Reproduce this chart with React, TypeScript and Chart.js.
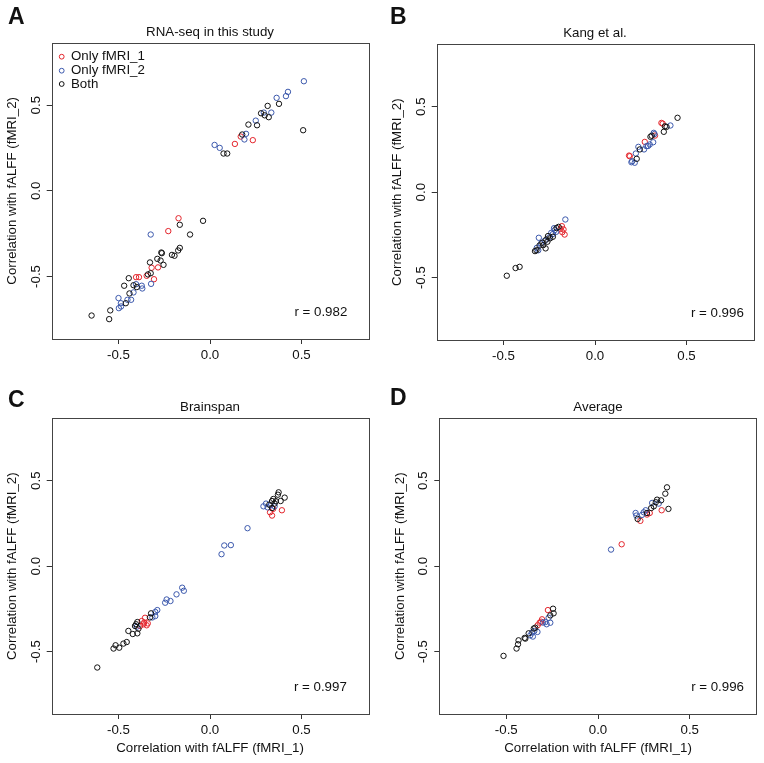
import React, { useEffect, useRef } from "react";
import { Chart, registerables } from "chart.js";
Chart.register(...registerables);

const FONT = "'Liberation Sans', Arial, Helvetica, sans-serif";
const RED = "#e3242b";
const BLUE = "#3b58ac";
const BLACK = "#111111";

const TICKS = [-0.5, 0, 0.5];
const AXIS_MIN = -0.865;
const AXIS_MAX = 0.865;
const LEGEND_LABELS = ["Only fMRI_1", "Only fMRI_2", "Both"];
const X_TITLE = "Correlation with fALFF (fMRI_1)";
const Y_TITLE = "Correlation with fALFF (fMRI_2)";

// Panel A: RNA-seq in this study
const aOnly1X = [0.168, 0.234, 0.136, -0.172, -0.228, -0.284, -0.319, -0.346, -0.404, -0.388, -0.306];
const aOnly1Y = [0.317, 0.296, 0.274, -0.16, -0.235, -0.447, -0.449, -0.496, -0.504, -0.504, -0.516];
const aOnly2X = [0.513, 0.426, 0.415, 0.364, 0.335, 0.294, 0.25, 0.197, 0.188, 0.025, 0.053, -0.324, -0.322, -0.404, -0.373, -0.37, -0.418, -0.5, -0.451, -0.431, -0.487, -0.498, -0.486];
const aOnly2Y = [0.64, 0.578, 0.553, 0.543, 0.457, 0.457, 0.41, 0.333, 0.3, 0.268, 0.251, -0.255, -0.543, -0.545, -0.554, -0.57, -0.593, -0.626, -0.636, -0.636, -0.656, -0.685, -0.675];
const aBothX = [0.377, 0.315, 0.321, 0.279, 0.299, 0.21, 0.257, 0.509, 0.176, 0.074, 0.094, -0.038, -0.165, -0.109, -0.165, -0.174, -0.263, -0.208, -0.194, -0.288, -0.27, -0.328, -0.254, -0.324, -0.339, -0.444, -0.469, -0.418, -0.4, -0.44, -0.46, -0.545, -0.647, -0.551, -0.266];
const aBothY = [0.508, 0.496, 0.43, 0.453, 0.441, 0.387, 0.383, 0.354, 0.329, 0.218, 0.218, -0.175, -0.198, -0.255, -0.333, -0.348, -0.364, -0.374, -0.379, -0.397, -0.407, -0.418, -0.432, -0.481, -0.488, -0.51, -0.554, -0.551, -0.562, -0.599, -0.656, -0.698, -0.728, -0.749, -0.36];

// Panel B: Kang et al.
const bOnly1X = [0.363, 0.37, 0.328, 0.272, 0.186, 0.19, -0.181, -0.172, -0.166, -0.179, -0.188];
const bOnly1Y = [0.405, 0.401, 0.331, 0.294, 0.214, 0.21, -0.199, -0.218, -0.248, -0.234, -0.215];
const bOnly2X = [0.412, 0.321, 0.318, 0.299, 0.281, 0.237, 0.268, 0.223, 0.203, 0.217, 0.199, 0.325, 0.29, -0.162, -0.224, -0.212, -0.239, -0.307, -0.318, -0.25, -0.275, -0.23, -0.31, -0.295, -0.22];
const bOnly2Y = [0.39, 0.347, 0.292, 0.279, 0.269, 0.265, 0.25, 0.226, 0.181, 0.172, 0.175, 0.34, 0.27, -0.16, -0.211, -0.232, -0.238, -0.267, -0.326, -0.265, -0.285, -0.245, -0.34, -0.3, -0.222];
const bBothX = [0.451, 0.391, 0.382, 0.376, 0.303, 0.245, 0.228, 0.31, -0.199, -0.23, -0.257, -0.266, -0.288, -0.303, -0.27, -0.328, -0.32, -0.245, -0.283, -0.412, -0.434, -0.482, -0.21, -0.26];
const bBothY = [0.435, 0.382, 0.385, 0.353, 0.324, 0.25, 0.195, 0.33, -0.203, -0.261, -0.257, -0.277, -0.296, -0.312, -0.329, -0.345, -0.34, -0.27, -0.31, -0.437, -0.444, -0.489, -0.21, -0.29];

// Panel C: Brainspan
const cOnly1X = [0.393, 0.328, 0.339, 0.345, -0.355, -0.373, -0.364, -0.346, -0.382, -0.36, -0.34];
const cOnly1Y = [0.327, 0.315, 0.296, 0.335, -0.302, -0.321, -0.34, -0.346, -0.35, -0.33, -0.335];
const cOnly2X = [0.292, 0.306, 0.315, 0.353, 0.33, 0.205, 0.078, 0.114, 0.063, -0.152, -0.143, -0.183, -0.237, -0.216, -0.245, -0.288, -0.299, -0.299, -0.315, -0.4];
const cOnly2Y = [0.35, 0.366, 0.344, 0.35, 0.355, 0.222, 0.121, 0.123, 0.07, -0.126, -0.144, -0.165, -0.195, -0.204, -0.214, -0.257, -0.268, -0.292, -0.3, -0.354];
const cBothX = [0.375, 0.371, 0.408, 0.386, 0.346, 0.339, 0.353, 0.324, 0.339, 0.36, -0.322, -0.328, -0.397, -0.404, -0.391, -0.446, -0.397, -0.422, -0.41, -0.455, -0.473, -0.516, -0.527, -0.496, -0.616];
const cBothY = [0.432, 0.418, 0.401, 0.381, 0.393, 0.381, 0.366, 0.36, 0.34, 0.38, -0.276, -0.3, -0.327, -0.34, -0.366, -0.379, -0.393, -0.397, -0.35, -0.444, -0.453, -0.463, -0.482, -0.477, -0.593];

// Panel D: Average
const dOnly1X = [0.347, 0.282, 0.267, 0.231, 0.129, -0.273, -0.305, -0.318, -0.329, -0.31];
const dOnly1Y = [0.327, 0.311, 0.302, 0.265, 0.128, -0.257, -0.311, -0.331, -0.346, -0.325];
const dOnly2X = [0.295, 0.331, 0.26, 0.249, 0.205, 0.209, 0.24, 0.071, -0.269, -0.26, -0.287, -0.28, -0.347, -0.36, -0.369, -0.355, -0.33, -0.3];
const dOnly2Y = [0.37, 0.366, 0.327, 0.315, 0.311, 0.296, 0.3, 0.097, -0.302, -0.331, -0.327, -0.34, -0.379, -0.389, -0.405, -0.412, -0.385, -0.33];
const dBothX = [0.376, 0.367, 0.384, 0.344, 0.322, 0.315, 0.304, 0.29, 0.267, 0.216, -0.245, -0.242, -0.26, -0.342, -0.378, -0.35, -0.396, -0.433, -0.436, -0.444, -0.515, -0.4];
const dBothY = [0.461, 0.424, 0.335, 0.385, 0.389, 0.374, 0.35, 0.34, 0.311, 0.276, -0.249, -0.276, -0.288, -0.36, -0.393, -0.365, -0.424, -0.434, -0.457, -0.482, -0.525, -0.42];

const zip = (xs: number[], ys: number[]) => xs.map((x, i) => ({ x, y: ys[i] }));

type PanelSpec = {
  letter: string;
  title: string;
  r: string;
  only1: { x: number; y: number }[];
  only2: { x: number; y: number }[];
  both: { x: number; y: number }[];
  legend: boolean;
  xTitle: boolean;
  left: number; top: number; w: number; h: number;
  aL: number; aT: number; aR: number; aB: number;
  rRight: number; letterBase: number;
};

const PANELS: PanelSpec[] = [
  { letter: "A", title: "RNA-seq in this study", r: "r = 0.982", only1: zip(aOnly1X, aOnly1Y), only2: zip(aOnly2X, aOnly2Y), both: zip(aBothX, aBothY), legend: true, xTitle: false,
    left: 0, top: 0, w: 382, h: 380, aL: 51.7, aT: 42.7, aR: 368.3, aB: 339, rRight: 21, letterBase: 24 },
  { letter: "B", title: "Kang et al.", r: "r = 0.996", only1: zip(bOnly1X, bOnly1Y), only2: zip(bOnly2X, bOnly2Y), both: zip(bBothX, bBothY), legend: false, xTitle: false,
    left: 382, top: 0, w: 382, h: 380, aL: 54.7, aT: 44.3, aR: 371.3, aB: 340, rRight: 9.5, letterBase: 24 },
  { letter: "C", title: "Brainspan", r: "r = 0.997", only1: zip(cOnly1X, cOnly1Y), only2: zip(cOnly2X, cOnly2Y), both: zip(cBothX, cBothY), legend: false, xTitle: true,
    left: 0, top: 380, w: 382, h: 383, aL: 51.7, aT: 38.3, aR: 368.3, aB: 334, rRight: 21.5, letterBase: 27 },
  { letter: "D", title: "Average", r: "r = 0.996", only1: zip(dOnly1X, dOnly1Y), only2: zip(dOnly2X, dOnly2Y), both: zip(dBothX, dBothY), legend: false, xTitle: true,
    left: 382, top: 380, w: 382, h: 383, aL: 57.3, aT: 38.3, aR: 374.7, aB: 334, rRight: 12.7, letterBase: 25 },
];

const FS = 13.3;

function Panel({ p }: { p: PanelSpec }) {
  const ref = useRef<HTMLCanvasElement | null>(null);
  useEffect(() => {
    const canvas = ref.current;
    if (!canvas) return;
    const deco = {
      id: "deco" + p.letter,
      afterDraw(chart: any) {
        const ctx = chart.ctx as CanvasRenderingContext2D;
        const a = chart.chartArea;
        ctx.save();
        // box
        ctx.strokeStyle = "#444";
        ctx.lineWidth = 1;
        ctx.strokeRect(Math.round(a.left) + 0.5, Math.round(a.top) + 0.5, Math.round(a.right - a.left), Math.round(a.bottom - a.top));
        ctx.fillStyle = "#111";
        // y tick labels rotated
        const ys = chart.scales.y;
        ctx.font = `${FS}px ${FONT}`;
        ctx.textAlign = "center";
        ctx.textBaseline = "middle";
        TICKS.forEach((v) => {
          const y = ys.getPixelForValue(v);
          ctx.save();
          ctx.translate(a.left - 15.5, y);
          ctx.rotate(-Math.PI / 2);
          ctx.fillText(v.toFixed(1), 0, 0);
          ctx.restore();
        });
        // title
        ctx.textAlign = "center";
        ctx.textBaseline = "middle";
        ctx.fillText(p.title, (a.left + a.right) / 2, a.top - 10.5);
        // r value
        ctx.textAlign = "right";
        ctx.fillText(p.r, a.right - p.rRight, a.bottom - 27);
        // panel letter
        ctx.font = `bold 23px ${FONT}`;
        ctx.textAlign = "left";
        ctx.textBaseline = "alphabetic";
        ctx.fillText(p.letter, 8, p.letterBase);
        // legend
        if (p.legend) {
          const cols = [RED, BLUE, BLACK];
          const rows = [14, 28, 41.3];
          ctx.font = `${FS}px ${FONT}`;
          ctx.textBaseline = "middle";
          LEGEND_LABELS.forEach((lab, i) => {
            ctx.beginPath();
            ctx.strokeStyle = cols[i];
            ctx.lineWidth = 1;
            ctx.arc(a.left + 10, a.top + rows[i], 2.4, 0, Math.PI * 2);
            ctx.stroke();
            ctx.fillStyle = "#111";
            ctx.fillText(lab, a.left + 19.3, a.top + rows[i]);
          });
        }
        ctx.restore();
      },
    };
    const mk = (data: { x: number; y: number }[], color: string, label: string) => ({
      label,
      data,
      showLine: false,
      pointRadius: 2.7,
      pointHoverRadius: 2.7,
      pointBorderWidth: 1,
      pointBorderColor: color,
      pointBackgroundColor: "rgba(0,0,0,0)",
      borderColor: color,
      backgroundColor: "rgba(0,0,0,0)",
    });
    const setTicks = (s: any) => {
      s.ticks = TICKS.map((v) => ({ value: v }));
    };
    const chart = new Chart(canvas, {
      type: "scatter",
      data: {
        datasets: [
          mk(p.both, BLACK, LEGEND_LABELS[2]),
          mk(p.only2, BLUE, LEGEND_LABELS[1]),
          mk(p.only1, RED, LEGEND_LABELS[0]),
        ],
      },
      options: {
        animation: false,
        responsive: false,
        maintainAspectRatio: false,
        devicePixelRatio: 1,
        events: [],
        layout: { padding: { top: p.aT, right: p.w - p.aR, left: 0, bottom: 0 } },
        plugins: { legend: { display: false }, tooltip: { enabled: false }, title: { display: false } },
        scales: {
          x: {
            type: "linear",
            min: AXIS_MIN,
            max: AXIS_MAX,
            afterBuildTicks: setTicks,
            afterFit: (s: any) => { s.height = p.h - p.aB; },
            border: { display: false },
            grid: { drawOnChartArea: false, drawTicks: true, tickLength: 5, color: "#333", lineWidth: 1 },
            ticks: { font: { family: FONT, size: FS }, color: "#111", padding: 3, maxRotation: 0, minRotation: 0, callback: (v: any) => Number(v).toFixed(1) },
            title: { display: p.xTitle, text: X_TITLE, color: "#111", font: { family: FONT, size: FS }, padding: { top: 0, bottom: 7 } },
          },
          y: {
            type: "linear",
            min: AXIS_MIN,
            max: AXIS_MAX,
            afterBuildTicks: setTicks,
            afterFit: (s: any) => { s.width = p.aL; },
            border: { display: false },
            grid: { drawOnChartArea: false, drawTicks: true, tickLength: 5, color: "#333", lineWidth: 1 },
            ticks: { font: { family: FONT, size: FS }, color: "rgba(0,0,0,0)", padding: 3, callback: (v: any) => Number(v).toFixed(1) },
            title: { display: true, text: Y_TITLE, color: "#111", font: { family: FONT, size: FS }, padding: { top: p.aL - 47, bottom: 0 } },
          },
        },
      } as any,
      plugins: [deco],
    });
    return () => chart.destroy();
  }, [p]);
  return (
    <canvas
      ref={ref}
      width={p.w}
      height={p.h}
      style={{ position: "absolute", left: p.left, top: p.top, width: p.w, height: p.h, display: "block" }}
    />
  );
}

export default function App() {
  return (
    <div style={{ position: "absolute", left: 0, top: 0, width: 764, height: 763, background: "#fff", overflow: "hidden" }}>
      {PANELS.map((p) => (
        <Panel key={p.letter} p={p} />
      ))}
    </div>
  );
}
